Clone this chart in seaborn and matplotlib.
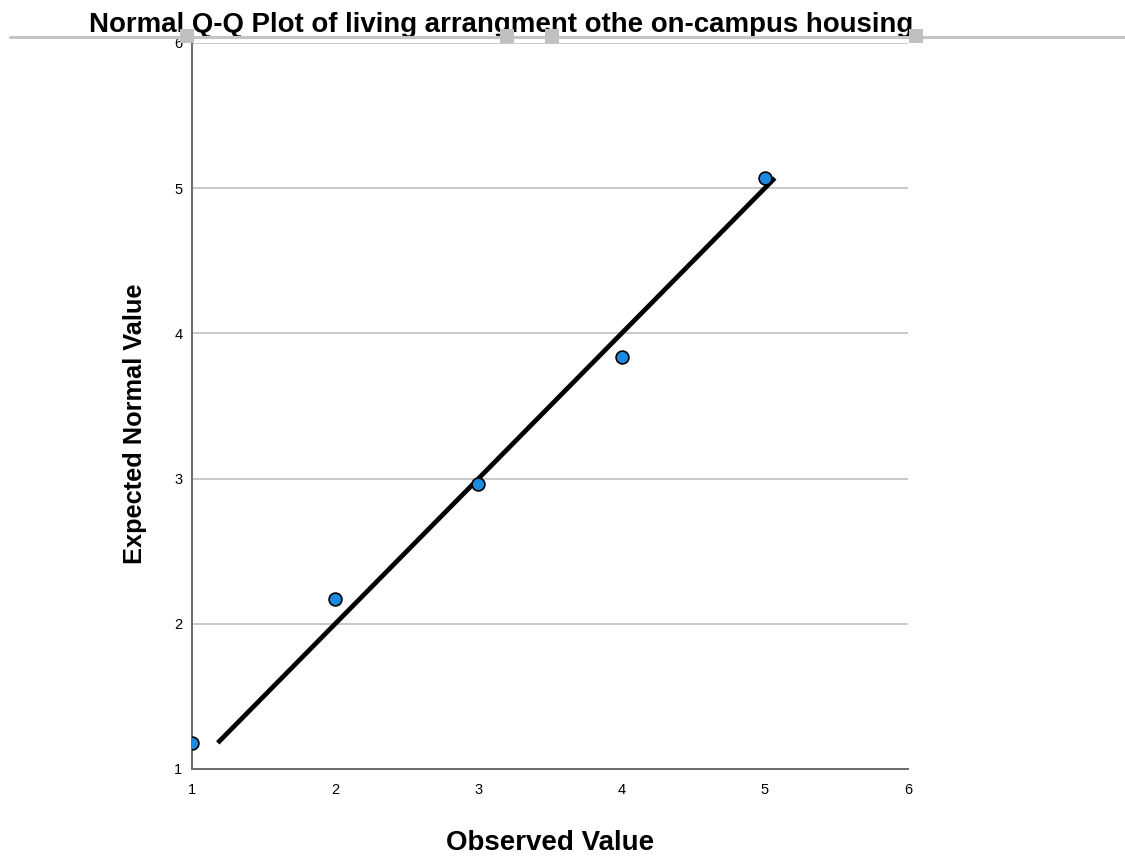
import matplotlib
matplotlib.use("Agg")
import matplotlib.pyplot as plt
from matplotlib.lines import Line2D
from matplotlib.patches import Rectangle
import seaborn as sns
import pandas as pd

# Observed category codes and their expected normal values
observed = [1, 2, 3, 4, 5]
expected = [1.18, 2.17, 2.96, 3.84, 5.07]
x_ticks = [1, 2, 3, 4, 5, 6]
y_ticks = [1, 2, 3, 4, 5, 6]

title = "Normal Q-Q Plot of living arrangment othe on-campus housing"

sns.set_theme(style="white")
plt.rcParams["font.family"] = ["Liberation Sans", "DejaVu Sans"]
plt.rcParams["text.color"] = "black"
plt.rcParams["axes.labelcolor"] = "black"

df = pd.DataFrame({"Observed Value": observed, "Expected Normal Value": expected})

fig = plt.figure(figsize=(11.25, 8.56), dpi=100)
W, H = 1125, 856
ax = fig.add_axes([192 / W, 1 - 769 / H, (908 - 192) / W, (769 - 43) / H])

ax.set_xlim(1, 6)
ax.set_ylim(1, 6)

# horizontal reference grid
for yv in y_ticks[1:]:
    ax.axhline(yv, color="#c8c8c8", lw=1.4, zorder=0)

# reference line y = x spanning the expected values
lo, hi = min(expected), max(expected)
sns.lineplot(x=[lo, hi], y=[lo, hi], ax=ax, color="black", lw=3.4,
             solid_capstyle="butt", zorder=2)

sns.scatterplot(data=df, x="Observed Value", y="Expected Normal Value", ax=ax,
                color="#1b8ae0", edgecolor="black", linewidth=1.2, s=85,
                zorder=3)

ax.set_xticks(x_ticks)
ax.set_yticks(y_ticks)
ax.tick_params(axis="both", length=0, labelsize=10.5, colors="black")
ax.tick_params(axis="x", pad=10)
ax.tick_params(axis="y", pad=7)

for s in ["top", "right"]:
    ax.spines[s].set_visible(False)
for s in ["left", "bottom"]:
    ax.spines[s].set_color("#6a6a6a")
    ax.spines[s].set_linewidth(1.4)

ax.set_xlabel("Observed Value", fontsize=20, fontweight="bold", labelpad=23.5)
ax.set_ylabel("Expected Normal Value", fontsize=18.3, fontweight="bold")
ax.yaxis.set_label_coords(-0.063, 0.475)

# chart title, partly overlapped by the frame edge below it
fig.text(501 / W, 1 - 32 / H, title, ha="center", va="baseline",
         fontsize=19.9, fontweight="bold", color="black", zorder=3)

fig.add_artist(Line2D([10 / W, 1.0], [1 - 36.5 / H, 1 - 36.5 / H],
                      transform=fig.transFigure, color="#c4c4c4", lw=2.2,
                      zorder=5))
for cx in [187, 507, 552, 916]:
    fig.add_artist(Rectangle(((cx - 7) / W, 1 - 43 / H), 14 / W, 14 / H,
                             transform=fig.transFigure, facecolor="#c0c0c0",
                             edgecolor="none", zorder=6))

fig.savefig("out.png", dpi=100)
